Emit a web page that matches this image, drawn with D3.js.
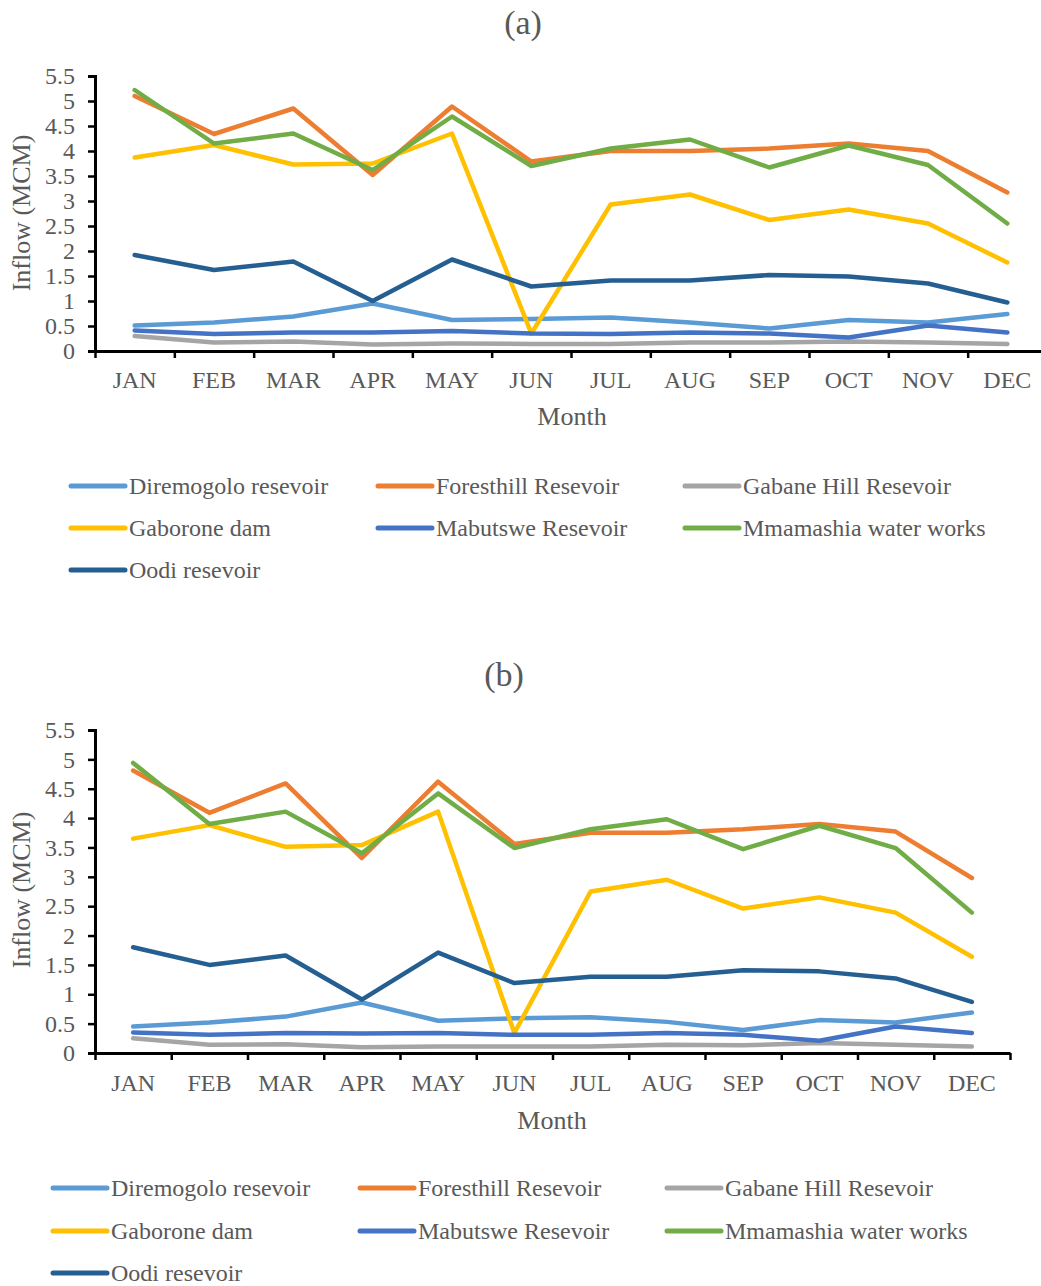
<!DOCTYPE html>
<html>
<head>
<meta charset="utf-8">
<script src="https://cdn.jsdelivr.net/npm/d3@7"></script>
<style>
  html, body { margin: 0; padding: 0; background: #fff; }
  svg { display: block; }
  text { font-family: "Liberation Serif", "Times New Roman", serif; fill: #595959; }
</style>
</head>
<body>
<svg id="chart" width="1041" height="1286"></svg>
<script>
// Months on the category axis
const months = ["JAN", "FEB", "MAR", "APR", "MAY", "JUN", "JUL", "AUG", "SEP", "OCT", "NOV", "DEC"];

// Value-axis ticks (MCM)
const yTicks = [0, 0.5, 1, 1.5, 2, 2.5, 3, 3.5, 4, 4.5, 5, 5.5];

// Reservoir names and their line colours
const seriesNames = [
  "Diremogolo resevoir", "Foresthill Resevoir", "Gabane Hill Resevoir",
  "Gaborone dam", "Mabutswe Resevoir", "Mmamashia water works", "Oodi resevoir"
];
const seriesColors = ["#5B9BD5", "#ED7D31", "#A5A5A5", "#FFC000", "#4472C4", "#70AD47", "#255E91"];

// Panel (a) monthly inflow, MCM
const diremogoloA = [0.51, 0.57, 0.69, 0.95, 0.62, 0.64, 0.67, 0.57, 0.45, 0.62, 0.57, 0.74];
const foresthillA = [5.10, 4.34, 4.85, 3.52, 4.89, 3.79, 4.00, 4.00, 4.05, 4.15, 4.00, 3.17];
const gabaneA     = [0.30, 0.17, 0.19, 0.13, 0.15, 0.14, 0.14, 0.17, 0.17, 0.19, 0.17, 0.14];
const gaboroneA   = [3.87, 4.12, 3.73, 3.75, 4.35, 0.35, 2.93, 3.13, 2.62, 2.83, 2.55, 1.77];
const mabutsweA   = [0.41, 0.34, 0.37, 0.37, 0.40, 0.35, 0.34, 0.37, 0.35, 0.27, 0.51, 0.37];
const mmamashiaA  = [5.22, 4.15, 4.35, 3.62, 4.69, 3.70, 4.05, 4.23, 3.67, 4.11, 3.72, 2.55];
const oodiA       = [1.92, 1.62, 1.79, 1.00, 1.83, 1.29, 1.41, 1.41, 1.52, 1.49, 1.35, 0.97];

// Panel (b) monthly inflow, MCM
const diremogoloB = [0.45, 0.52, 0.62, 0.86, 0.55, 0.59, 0.61, 0.53, 0.39, 0.56, 0.52, 0.69];
const foresthillB = [4.81, 4.09, 4.59, 3.32, 4.62, 3.56, 3.75, 3.75, 3.81, 3.90, 3.77, 2.98];
const gabaneB     = [0.25, 0.14, 0.15, 0.10, 0.11, 0.11, 0.11, 0.14, 0.13, 0.17, 0.14, 0.11];
const gaboroneB   = [3.65, 3.88, 3.51, 3.54, 4.11, 0.34, 2.75, 2.95, 2.46, 2.65, 2.39, 1.64];
const mabutsweB   = [0.35, 0.31, 0.34, 0.33, 0.34, 0.31, 0.31, 0.34, 0.31, 0.21, 0.45, 0.34];
const mmamashiaB  = [4.94, 3.90, 4.11, 3.40, 4.42, 3.49, 3.81, 3.98, 3.47, 3.87, 3.49, 2.39];
const oodiB       = [1.80, 1.50, 1.66, 0.91, 1.71, 1.19, 1.30, 1.30, 1.41, 1.39, 1.27, 0.87];

const seriesA = [diremogoloA, foresthillA, gabaneA, gaboroneA, mabutsweA, mmamashiaA, oodiA];
const seriesB = [diremogoloB, foresthillB, gabaneB, gaboroneB, mabutsweB, mmamashiaB, oodiB];

const svg = d3.select("#chart");

// Layout of each panel
const panels = [
  { title: "(a)", data: seriesA, titleX: 523, titleY: 34, left: 95, right: 1047, top: 76, bottom: 351,
    monthY: 388, axisTitleX: 572, axisTitleY: 425, yTitleY: 213,
    legendLineX: 71, legendColW: 307, legendRows: [486, 528, 570] },
  { title: "(b)", data: seriesB, titleX: 504, titleY: 686, left: 95, right: 1010, top: 730, bottom: 1053,
    monthY: 1091, axisTitleX: 552, axisTitleY: 1129, yTitleY: 890,
    legendLineX: 53, legendColW: 307, legendRows: [1188, 1231, 1273] }
];

panels.forEach(p => {
  const g = svg.append("g");

  const x = d3.scaleBand().domain(months).range([p.left, p.right]).padding(0);
  const xEdge = d3.scaleLinear().domain([0, months.length]).range([p.left, p.right]);
  const y = d3.scaleLinear().domain([0, 5.5]).range([p.bottom, p.top]);

  // Panel title
  g.append("text")
    .attr("x", p.titleX).attr("y", p.titleY)
    .attr("text-anchor", "middle").style("font-size", "34px")
    .text(p.title);

  // Value axis
  const yAxis = g.append("g")
    .attr("transform", `translate(${p.left},0)`)
    .call(d3.axisLeft(y).tickValues(yTicks).tickSize(7).tickPadding(13)
      .tickFormat(d => String(d)));
  yAxis.select(".domain").attr("stroke", "#000").attr("stroke-width", 3);
  yAxis.selectAll(".tick line").attr("stroke", "#000").attr("stroke-width", 2.5);
  yAxis.selectAll(".tick text").style("font-size", "24px").attr("fill", "#595959")
    .style("font-family", "'Liberation Serif', serif");

  // Category axis: tick marks sit on the band edges
  const xTicks = g.append("g")
    .attr("transform", `translate(0,${p.bottom})`)
    .call(d3.axisBottom(xEdge).tickValues(d3.range(months.length + 1)).tickSize(7)
      .tickSizeOuter(0).tickFormat(""));
  xTicks.select(".domain").attr("stroke", "#000").attr("stroke-width", 3);
  xTicks.selectAll(".tick line").attr("stroke", "#000").attr("stroke-width", 2.5);

  // Month labels centred in each band
  const xLabels = g.append("g")
    .attr("transform", `translate(0,${p.bottom})`)
    .call(d3.axisBottom(x).tickSize(0).tickPadding(p.monthY - p.bottom - 17));
  xLabels.select(".domain").remove();
  xLabels.selectAll(".tick text").style("font-size", "24px").attr("fill", "#595959")
    .style("font-family", "'Liberation Serif', serif");

  // Axis titles
  g.append("text")
    .attr("x", p.axisTitleX).attr("y", p.axisTitleY)
    .attr("text-anchor", "middle").style("font-size", "26px")
    .text("Month");
  g.append("text")
    .attr("transform", `translate(30,${p.yTitleY}) rotate(-90)`)
    .attr("text-anchor", "middle").style("font-size", "26px")
    .text("Inflow (MCM)");

  // Series lines
  const line = d3.line()
    .x((d, i) => x(months[i]) + x.bandwidth() / 2)
    .y(d => y(d));
  p.data.forEach((vals, si) => {
    g.append("path")
      .datum(vals)
      .attr("d", line)
      .attr("fill", "none")
      .attr("stroke", seriesColors[si])
      .attr("stroke-width", 4.5)
      .attr("stroke-linecap", "round")
      .attr("stroke-linejoin", "round");
  });

  // Legend, three columns
  seriesNames.forEach((name, si) => {
    const col = si % 3, row = Math.floor(si / 3);
    const lx = p.legendLineX + col * p.legendColW;
    const ly = p.legendRows[row];
    g.append("line")
      .attr("x1", lx).attr("x2", lx + 54)
      .attr("y1", ly).attr("y2", ly)
      .attr("stroke", seriesColors[si]).attr("stroke-width", 5)
      .attr("stroke-linecap", "round");
    g.append("text")
      .attr("x", lx + 58).attr("y", ly + 8)
      .style("font-size", "24px")
      .text(name);
  });
});
</script>
</body>
</html>
